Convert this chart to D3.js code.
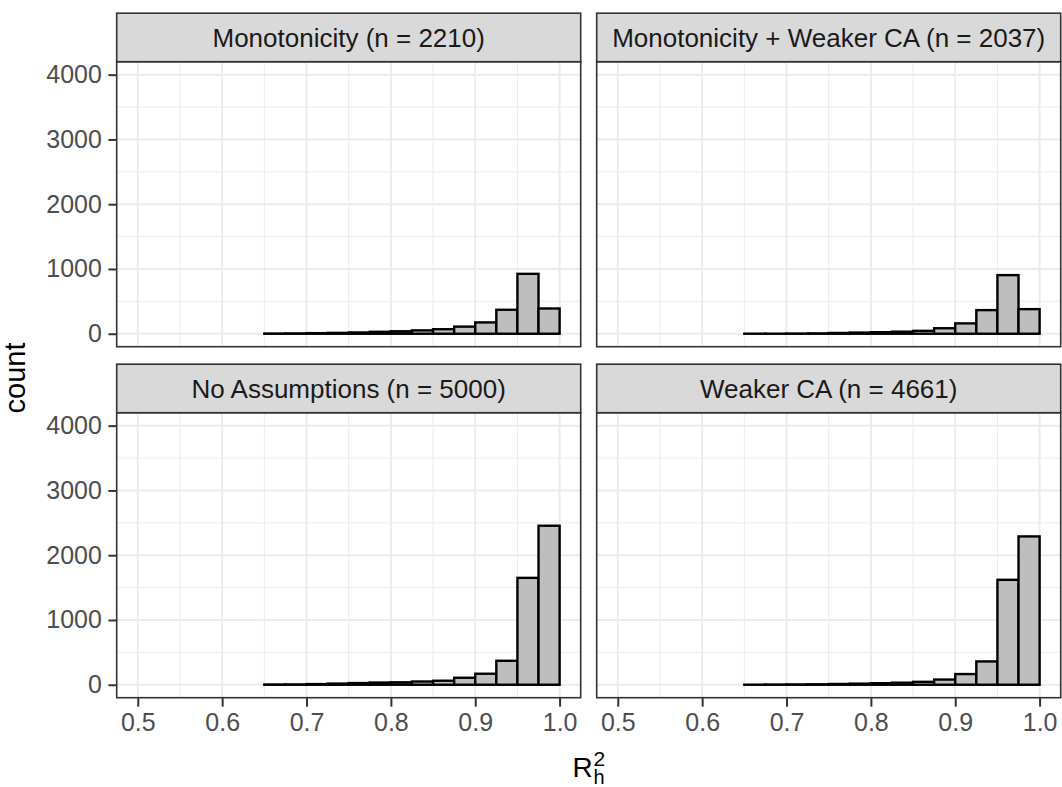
<!DOCTYPE html>
<html>
<head>
<meta charset="utf-8">
<script src="https://cdn.jsdelivr.net/npm/d3@7"></script>
<style>
  body { margin: 0; background: #fff; }
  text { font-family: "Liberation Sans", Arial, sans-serif; }
</style>
</head>
<body>
<div id="chart"></div>
<script>
const width = 1062
const height = 787

// bin left edges (binwidth 0.025)
const binStarts = [0.65, 0.675, 0.7, 0.725, 0.75, 0.775, 0.8, 0.825, 0.85, 0.875, 0.9, 0.925, 0.95, 0.975]
const binWidth = 0.025

const panelTitles = [
  'Monotonicity (n = 2210)',
  'Monotonicity + Weaker CA (n = 2037)',
  'No Assumptions (n = 5000)',
  'Weaker CA (n = 4661)'
]
const countsMono = [3, 5, 9, 13, 20, 30, 38, 52, 70, 110, 175, 370, 925, 390]
const countsMonoWeak = [1, 1, 3, 6, 12, 18, 24, 32, 45, 85, 160, 365, 905, 380]
const countsNone = [4, 5, 10, 18, 26, 34, 38, 50, 62, 108, 170, 370, 1650, 2455]
const countsWeak = [1, 3, 5, 7, 12, 17, 24, 32, 45, 80, 165, 360, 1620, 2290]
const panelCounts = [countsMono, countsMonoWeak, countsNone, countsWeak]

const xTicks = [0.5, 0.6, 0.7, 0.8, 0.9, 1.0]
const xMinor = [0.55, 0.65, 0.75, 0.85, 0.95]
const yTicks = [0, 1000, 2000, 3000, 4000]
const yMinor = [500, 1500, 2500, 3500]

const colX = [116.7, 596.7]
const panelW = 464
const rowY = [61.7, 412.7]
const panelH = 285
const stripH = 48.5

const x = d3.scaleLinear().domain([0.475, 1.025]).range([0, panelW])
const y = d3.scaleLinear().domain([-200, 4200]).range([panelH, 0])

const svg = d3.select('#chart').append('svg')
  .attr('width', width)
  .attr('height', height)

panelCounts.forEach((counts, i) => {
  const col = i % 2
  const row = Math.floor(i / 2)
  const g = svg.append('g')
    .attr('transform', `translate(${colX[col]},${rowY[row]})`)

  // grid
  g.append('g').selectAll('line')
    .data(xMinor)
    .join('line')
    .attr('x1', d => x(d)).attr('x2', d => x(d))
    .attr('y1', 0).attr('y2', panelH)
    .attr('stroke', '#EBEBEB').attr('stroke-width', 1)
  g.append('g').selectAll('line')
    .data(yMinor)
    .join('line')
    .attr('y1', d => y(d)).attr('y2', d => y(d))
    .attr('x1', 0).attr('x2', panelW)
    .attr('stroke', '#EBEBEB').attr('stroke-width', 1)
  g.append('g').selectAll('line')
    .data(xTicks)
    .join('line')
    .attr('x1', d => x(d)).attr('x2', d => x(d))
    .attr('y1', 0).attr('y2', panelH)
    .attr('stroke', '#EBEBEB').attr('stroke-width', 2)
  g.append('g').selectAll('line')
    .data(yTicks)
    .join('line')
    .attr('y1', d => y(d)).attr('y2', d => y(d))
    .attr('x1', 0).attr('x2', panelW)
    .attr('stroke', '#EBEBEB').attr('stroke-width', 2)

  // bars
  g.append('g').selectAll('rect')
    .data(counts)
    .join('rect')
    .attr('x', (d, j) => x(binStarts[j]))
    .attr('width', x(binWidth) - x(0))
    .attr('y', d => y(d))
    .attr('height', d => y(0) - y(d))
    .attr('fill', '#BEBEBE')
    .attr('stroke', '#000')
    .attr('stroke-width', 2.4)

  // border
  g.append('rect')
    .attr('width', panelW).attr('height', panelH)
    .attr('fill', 'none')
    .attr('stroke', '#333333').attr('stroke-width', 1.6)

  // strip
  g.append('rect')
    .attr('y', -stripH)
    .attr('width', panelW).attr('height', stripH)
    .attr('fill', '#D9D9D9')
    .attr('stroke', '#333333').attr('stroke-width', 1.6)
  g.append('text')
    .attr('x', panelW / 2)
    .attr('y', -stripH / 2)
    .attr('dy', '0.36em')
    .attr('text-anchor', 'middle')
    .attr('font-size', 26)
    .attr('fill', '#1A1A1A')
    .text(panelTitles[i])

  // y axis on left column
  if (col === 0) {
    const ya = g.append('g')
      .call(d3.axisLeft(y).tickValues(yTicks).tickSize(8.3).tickPadding(6.5).tickFormat(d3.format('d')))
    ya.select('.domain').remove()
    ya.selectAll('line').attr('stroke', '#333333').attr('stroke-width', 2)
    ya.selectAll('text').attr('fill', '#4D4D4D').attr('font-size', 25)
      .attr('font-family', '"Liberation Sans", Arial, sans-serif')
  }
  // x axis on bottom row
  if (row === 1) {
    const xa = g.append('g')
      .attr('transform', `translate(0,${panelH})`)
      .call(d3.axisBottom(x).tickValues(xTicks).tickSize(9).tickPadding(6.5).tickFormat(d3.format('.1f')))
    xa.select('.domain').remove()
    xa.selectAll('line').attr('stroke', '#333333').attr('stroke-width', 2)
    xa.selectAll('text').attr('fill', '#4D4D4D').attr('font-size', 25)
      .attr('font-family', '"Liberation Sans", Arial, sans-serif')
  }
})

// axis titles
svg.append('text')
  .attr('transform', 'translate(24.5,378) rotate(-90)')
  .attr('text-anchor', 'middle')
  .attr('font-size', 29)
  .attr('fill', '#000')
  .text('count')

svg.append('text')
  .attr('x', 572.5)
  .attr('y', 776.5)
  .attr('font-size', 28)
  .attr('fill', '#000')
  .text('R')
svg.append('text')
  .attr('x', 593.5).attr('y', 765.5)
  .attr('font-size', 21)
  .attr('fill', '#000')
  .text('2')
svg.append('text')
  .attr('x', 593.5).attr('y', 784)
  .attr('font-size', 20)
  .attr('fill', '#000')
  .text('h')
</script>
</body>
</html>
